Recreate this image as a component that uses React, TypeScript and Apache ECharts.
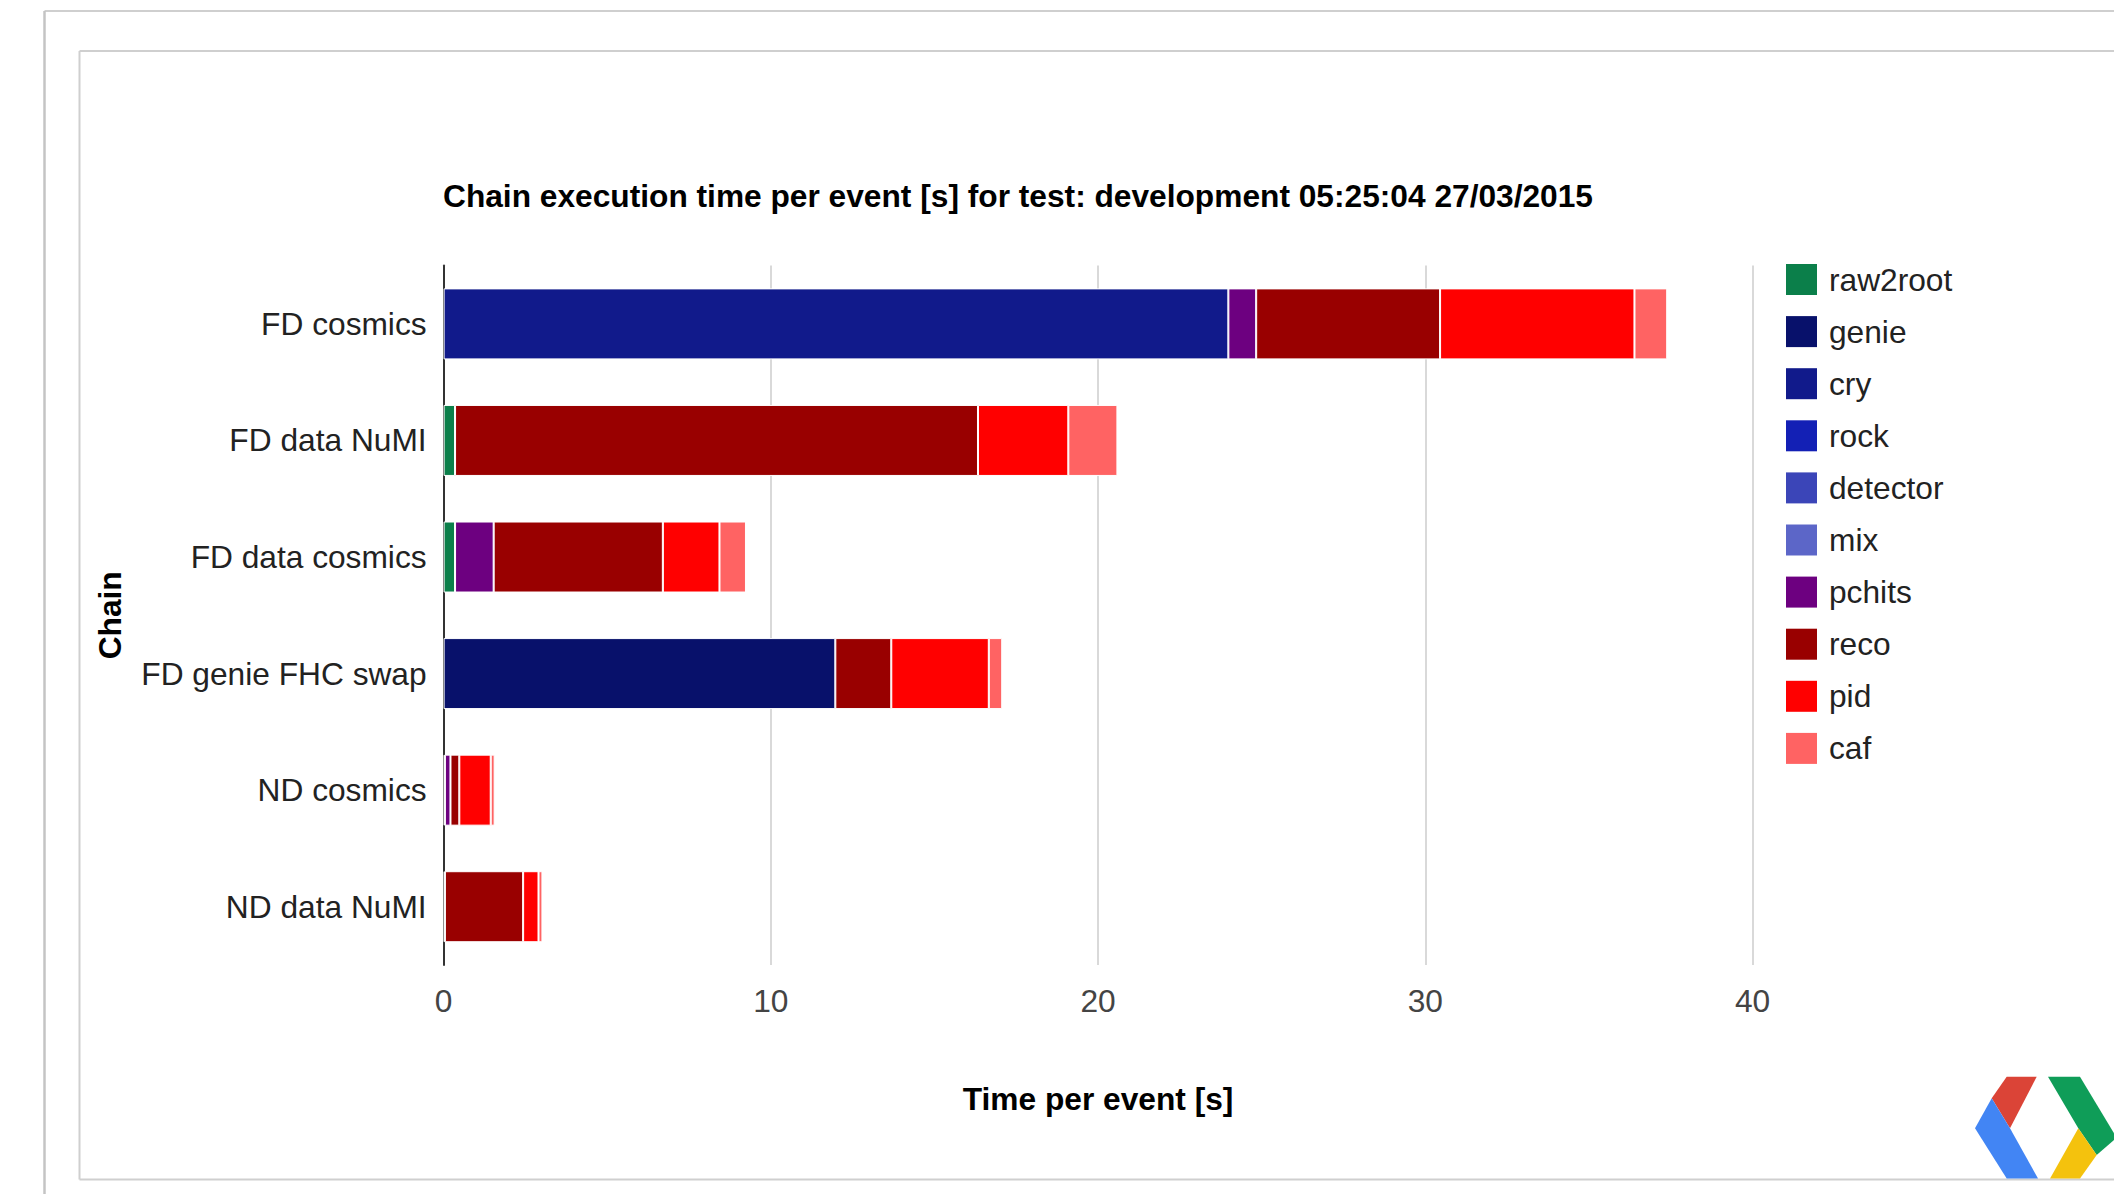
import React, { useEffect, useRef } from "react";
import * as echarts from "echarts";

const categories = [
  "FD cosmics",
  "FD data NuMI",
  "FD data cosmics",
  "FD genie FHC swap",
  "ND cosmics",
  "ND data NuMI",
];

const seriesNames = ["raw2root", "genie", "cry", "rock", "detector", "mix", "pchits", "reco", "pid", "caf"];
const seriesColors = ["#0b7f4a", "#08116b", "#111a8b", "#1320b5", "#3b45b8", "#5c66c8", "#6d0080", "#990000", "#ff0000", "#ff6363"];

const raw2root = [0, 0.35, 0.35, 0, 0, 0];
const genie = [0, 0, 0, 11.97, 0, 0];
const cry = [23.98, 0, 0, 0, 0, 0];
const rock = [0, 0, 0, 0, 0, 0];
const detector = [0, 0, 0, 0, 0, 0];
const mix = [0, 0, 0, 0, 0.04, 0.04];
const pchits = [0.85, 0, 1.18, 0, 0.17, 0];
const reco = [5.62, 15.98, 5.17, 1.71, 0.27, 2.39];
const pid = [5.94, 2.76, 1.73, 2.98, 0.96, 0.47];
const caf = [1.0, 1.5, 0.81, 0.41, 0.12, 0.12];

const seriesValues = [raw2root, genie, cry, rock, detector, mix, pchits, reco, pid, caf];

const xTicks = [0, 10, 20, 30, 40];

const titleText = "Chain execution time per event [s] for test: development 05:25:04 27/03/2015";
const xAxisTitle = "Time per event [s]";
const yAxisTitle = "Chain";

const FONT = "'Liberation Sans', Arial, Helvetica, sans-serif";
const FS = 31.7;

export default function App() {
  const ref = useRef<HTMLDivElement>(null);

  useEffect(() => {
    if (!ref.current) return;
    const chart = echarts.init(ref.current, undefined, { renderer: "svg" });

    const frameColor = "#cfcfcf";

    const option: any = {
      animation: false,
      backgroundColor: "#ffffff",
      textStyle: { fontFamily: FONT },
      title: {
        text: titleText,
        left: 443,
        top: 180,
        padding: 0,
        textStyle: {
          fontFamily: FONT,
          fontSize: FS,
          fontWeight: "bold",
          color: "#000000",
          lineHeight: 31,
        },
      },
      legend: {
        orient: "vertical",
        left: 1786,
        top: 263.5,
        padding: 0,
        itemWidth: 31,
        itemHeight: 31,
        itemGap: 20.1,
        icon: "rect",
        data: seriesNames,
        itemStyle: { borderWidth: 0 },
        textStyle: {
          fontFamily: FONT,
          fontSize: FS,
          color: "#222222",
          lineHeight: 31,
          padding: [0, 0, 0, 7],
        },
      },
      grid: {
        left: 443.6,
        top: 265.6,
        width: 1309,
        height: 699.4,
        containLabel: false,
      },
      xAxis: {
        type: "value",
        min: xTicks[0],
        max: xTicks[xTicks.length - 1],
        interval: 10,
        name: xAxisTitle,
        nameLocation: "middle",
        nameGap: 118,
        nameTextStyle: {
          fontFamily: FONT,
          fontSize: FS,
          fontWeight: "bold",
          color: "#000000",
          lineHeight: 31,
        },
        axisLine: { show: false },
        axisTick: { show: false },
        axisLabel: {
          fontFamily: FONT,
          fontSize: FS,
          color: "#444444",
          margin: 20,
          lineHeight: 31,
        },
        splitLine: { show: true, lineStyle: { color: "#cccccc", width: 1.5 } },
      },
      yAxis: {
        type: "category",
        data: categories,
        inverse: true,
        name: yAxisTitle,
        nameLocation: "middle",
        nameGap: 318,
        nameRotate: 90,
        nameTextStyle: {
          fontFamily: FONT,
          fontSize: FS,
          fontWeight: "bold",
          color: "#000000",
          lineHeight: 31,
        },
        axisLine: { show: true, lineStyle: { color: "#333333", width: 2 } },
        axisTick: { show: false },
        axisLabel: {
          fontFamily: FONT,
          fontSize: FS,
          color: "#222222",
          margin: 17,
        },
        splitLine: { show: false },
      },
      series: seriesNames.map((name, i) => ({
        name,
        type: "bar",
        stack: "total",
        barWidth: 71,
        data: seriesValues[i].map((v) => (v === 0 ? null : v)),
        itemStyle: {
          color: seriesColors[i],
          borderColor: "#ffffff",
          borderWidth: 1,
        },
        emphasis: { disabled: true },
      })),
      graphic: [
        // outer page frame
        {
          type: "line",
          shape: { x1: 44.5, y1: 11, x2: 2114, y2: 11 },
          style: { stroke: frameColor, lineWidth: 2 },
          silent: true,
        },
        {
          type: "line",
          shape: { x1: 44.5, y1: 11, x2: 44.5, y2: 1194 },
          style: { stroke: "#c4c4c4", lineWidth: 2.5 },
          silent: true,
        },
        // inner chart frame
        {
          type: "line",
          shape: { x1: 79.5, y1: 51, x2: 2114, y2: 51 },
          style: { stroke: frameColor, lineWidth: 2 },
          silent: true,
        },
        {
          type: "line",
          shape: { x1: 79.5, y1: 51, x2: 79.5, y2: 1179.5 },
          style: { stroke: frameColor, lineWidth: 2 },
          silent: true,
        },
        {
          type: "line",
          shape: { x1: 79.5, y1: 1179.5, x2: 2114, y2: 1179.5 },
          style: { stroke: frameColor, lineWidth: 2 },
          silent: true,
        },
        // logo
        {
          type: "polygon",
          shape: { points: [[2006.7, 1076.7], [2036.7, 1076.7], [2010, 1128.3], [1991.7, 1098.3]] },
          style: { fill: "#db4437" },
          silent: true,
        },
        {
          type: "polygon",
          shape: { points: [[2048, 1076.7], [2080, 1076.7], [2114, 1133.3], [2114, 1140], [2096.7, 1155], [2078.3, 1128.3]] },
          style: { fill: "#0f9d58" },
          silent: true,
        },
        {
          type: "polygon",
          shape: { points: [[2078.3, 1128.3], [2096.7, 1155], [2080, 1178.5], [2050, 1178.5]] },
          style: { fill: "#f4c20d" },
          silent: true,
        },
        {
          type: "polygon",
          shape: { points: [[1991.7, 1098.3], [2010, 1128.3], [2038, 1178.5], [2006.7, 1178.5], [1975, 1128.3]] },
          style: { fill: "#4285f4" },
          silent: true,
        },
      ],
    };

    chart.setOption(option);
    return () => {
      chart.dispose();
    };
  }, []);

  return (
    <div
      ref={ref}
      style={{ position: "fixed", left: 0, top: 0, width: 2114, height: 1194 }}
    />
  );
}
